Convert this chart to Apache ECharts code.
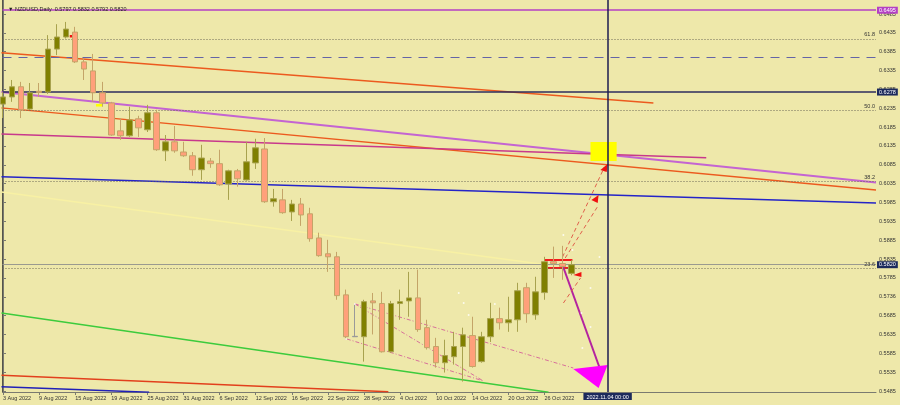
<!DOCTYPE html>
<html><head><meta charset="utf-8">
<script src="https://cdn.jsdelivr.net/npm/echarts@6/dist/echarts.min.js"></script>
<style>html,body{margin:0;padding:0;background:#EEE8AA;}#c{width:900px;height:405px;}</style>
</head><body><div id="c"></div>
<script>
// ---- data ----
const symbolName = 'NZDUSD,Daily';
const dates = ['2022-08-03','2022-08-04','2022-08-05','2022-08-08','2022-08-09','2022-08-10','2022-08-11','2022-08-12','2022-08-15','2022-08-16','2022-08-17','2022-08-18','2022-08-19','2022-08-22','2022-08-23','2022-08-24','2022-08-25','2022-08-26','2022-08-29','2022-08-30','2022-08-31','2022-09-01','2022-09-02','2022-09-05','2022-09-06','2022-09-07','2022-09-08','2022-09-09','2022-09-12','2022-09-13','2022-09-14','2022-09-15','2022-09-16','2022-09-19','2022-09-20','2022-09-21','2022-09-22','2022-09-23','2022-09-26','2022-09-27','2022-09-28','2022-09-29','2022-09-30','2022-10-03','2022-10-04','2022-10-05','2022-10-06','2022-10-07','2022-10-10','2022-10-11','2022-10-12','2022-10-13','2022-10-14','2022-10-17','2022-10-18','2022-10-19','2022-10-20','2022-10-21','2022-10-24','2022-10-25','2022-10-26','2022-10-27','2022-10-28','2022-10-31'];
const openP = [0.6246,0.6265,0.6292,0.6233,0.6280,0.6278,0.6392,0.6424,0.6437,0.6358,
  0.6334,0.6276,0.6249,0.6175,0.6162,0.6207,0.6178,0.6223,0.6122,0.6146,
  0.6119,0.6109,0.6072,0.6095,0.6088,0.6034,0.6069,0.6045,0.6090,0.6127,
  0.5987,0.5992,0.5960,0.5981,0.5955,0.5891,0.5849,0.5841,0.5740,0.5630,
  0.5629,0.5724,0.5717,0.5589,0.5717,0.5724,0.5732,0.5653,0.5603,0.5560,
  0.5576,0.5603,0.5632,0.5563,0.5629,0.5677,0.5666,0.5674,0.5759,0.5687,
  0.5746,0.5828,0.5823,0.5797];
const closeP = [0.6265,0.6292,0.6231,0.6276,0.6277,0.6392,0.6424,0.6445,0.6358,0.6339,
  0.6276,0.6249,0.6164,0.6162,0.6204,0.6183,0.6223,0.6125,0.6146,0.6122,
  0.6109,0.6072,0.6103,0.6088,0.6032,0.6069,0.6048,0.6093,0.6130,0.5987,
  0.5995,0.5958,0.5981,0.5952,0.5889,0.5844,0.5841,0.5738,0.5629,0.5629,
  0.5722,0.5719,0.5589,0.5717,0.5722,0.5732,0.5648,0.5600,0.5560,0.5579,
  0.5603,0.5634,0.5550,0.5629,0.5677,0.5666,0.5674,0.5751,0.5690,0.5748,
  0.5828,0.5823,0.5815,0.5820];
const lowP = [0.6209,0.6252,0.6209,0.6231,0.6265,0.6273,0.6376,0.6420,0.6355,0.6310,
  0.6252,0.6239,0.6162,0.6151,0.6159,0.6159,0.6172,0.6122,0.6095,0.6117,
  0.6106,0.6056,0.6045,0.6077,0.6029,0.5992,0.6027,0.6043,0.6074,0.5984,
  0.5974,0.5955,0.5936,0.5923,0.5881,0.5841,0.5801,0.5727,0.5621,0.5629,
  0.5563,0.5635,0.5587,0.5587,0.5674,0.5682,0.5642,0.5595,0.5547,0.5534,
  0.5555,0.5510,0.5547,0.5560,0.5615,0.5648,0.5642,0.5642,0.5666,0.5674,
  0.5727,0.5785,0.5780,0.5792];
const highP = [0.6278,0.6310,0.6305,0.6302,0.6302,0.6429,0.6458,0.6464,0.6451,0.6368,
  0.6379,0.6305,0.6252,0.6209,0.6239,0.6215,0.6244,0.6231,0.6164,0.6188,
  0.6146,0.6119,0.6138,0.6103,0.6125,0.6072,0.6074,0.6146,0.6154,0.6156,
  0.6021,0.6021,0.5992,0.5997,0.5971,0.5905,0.5886,0.5854,0.5754,0.5714,
  0.5727,0.5745,0.5748,0.5724,0.5754,0.5801,0.5807,0.5674,0.5626,0.5621,
  0.5642,0.5653,0.5682,0.5642,0.5719,0.5706,0.5735,0.5772,0.5772,0.5788,
  0.5841,0.5868,0.5870,0.5832];
const dojiIndex = 39;

// axis ticks
const xTickIdx = [0,4,8,12,16,20,24,28,32,36,40,44,48,52,56,60];
const xTickLabels = ['3 Aug 2022','9 Aug 2022','15 Aug 2022','19 Aug 2022','25 Aug 2022','31 Aug 2022','6 Sep 2022','12 Sep 2022','16 Sep 2022','22 Sep 2022','28 Sep 2022','4 Oct 2022','10 Oct 2022','14 Oct 2022','20 Oct 2022','26 Oct 2022'];
const yTickValues = [0.6485,0.6435,0.6385,0.6335,0.6285,0.6235,0.6185,0.6135,0.6085,0.6035,0.5985,0.5935,0.5885,0.5835,0.5785,0.5735,0.5685,0.5635,0.5585,0.5535,0.5485];
const yTickLabels = ['0.6485','0.6435','0.6385','0.6335','0.6285','0.6235','0.6185','0.6135','0.6085','0.6035','0.5985','0.5935','0.5885','0.5835','0.5785','0.5736','0.5685','0.5635','0.5585','0.5535','0.5485'];

// horizontal levels
const violetLevel = 0.6495;
const navyLevel = 0.6278;
const dashedLevel = 0.6371;
const bidLevel = 0.5820;
const fibLevels = [0.6419, 0.6229, 0.6041, 0.5810];
const fibNames = ['61.8', '50.0', '38.2', '23.6'];
const crosshairIndex = 67;
const crosshairLabel = '2022.11.04 00:00';

// drawn trend lines, [bar index, price]
const orangeTopLine = [[-0.17,0.6382],[72.07,0.6249]];
const orangeMidLine = [[-0.17,0.6236],[96.74,0.6018]];
const orangeLowLine = [[-0.17,0.5527],[42.7,0.5483]];
const violetTrend = [[-0.17,0.6278],[96.74,0.6038]];
const crimsonTrend = [[-0.17,0.6167],[77.93,0.6104]];
const blueTrend = [[-0.17,0.6053],[96.74,0.5984]];
const blueLowLine = [[-0.17,0.5496],[16.2,0.5482]];
const paleTrend = [[-0.17,0.6013],[59.6,0.5822]];
const greenTrend = [[-0.17,0.5692],[60.45,0.5482]];
const pinkLine1 = [[39.0,0.5716],[63.2,0.5546]];
const pinkLine2 = [[39.0,0.5716],[53.2,0.5512]];
const pinkLine3 = [[38.1,0.5623],[53.2,0.5512]];
const redBarTop = [[60.0,0.58325],[63.1,0.58325]];
const redBarLow = [[60.0,0.58113],[63.4,0.58113]];
const magentaArrow = [[62.0,0.58192],[66.2,0.55407]];
const redDash1 = [[62.0,0.58404],[66.65,0.60792]];
const redDash2 = [[62.3,0.58378],[66.0,0.59784]];
const redDash3 = [[62.1,0.57184],[64.0,0.57848]];
// filled shapes
const magentaTriangle = [[63.2,0.55434],[67.0,0.5554],[66.0,0.5493]];
const redHeadUpper = [[67.0,0.60871],[66.2,0.60712],[66.9,0.60659]];
const redHeadLower = [[66.0,0.60049],[65.2,0.59916],[65.9,0.59837]];
const redHeadSmall = [[63.2,0.57927],[64.1,0.58007],[64.1,0.57874]];
const yellowBox = [[65.1,0.61455],[68.0,0.61455],[68.0,0.60951],[65.1,0.60951]];
const yellowMark = [[10.3,0.62463],[11.0,0.62463],[11.0,0.62396],[10.3,0.62396]];
const redMark = [[7.4,0.64293],[7.8,0.64293],[7.8,0.64227],[7.4,0.64227]];
// fractal dots
const fractalDots = [[50.5,0.5745],[51.05,0.57184],[51.6,0.56866],[54.5,0.57158],[38.0,0.56229],[39.0,0.57158],[62.1,0.58988],[63.1,0.5859],[66.1,0.58404],[65.1,0.57582],[64.1,0.56919],[65.1,0.56548],[64.2,0.55991]];

// ---- chart ----
const FONT = 'Liberation Sans, DejaVu Sans, sans-serif';
const Y_MIN = 0.548236, Y_MAX = 0.652214;
const X_MIN = -0.055, X_MAX = 96.74;

function seg(pts, color, width, type) {
  return {type:'line', data: pts, showSymbol:false, symbol:'none', silent:true, animation:false,
    lineStyle:{color, width, type: type || 'solid'}, z: 3};
}
function poly(pts, fill) {
  return {type:'custom', silent:true, animation:false, z: 4, data:[pts[0]],
    renderItem:(p, api) => ({type:'polygon', shape:{points: pts.map(q => api.coord(q))}, style:{fill}})};
}
const hLabel = (txt, bg) => ({show:true, position:'end', formatter: txt, backgroundColor: bg, color:'#fff',
  fontSize:5.5, fontFamily:FONT, padding:[1,2,0,2], distance:1});
const fibLabel = (txt) => ({show:true, position:'insideEndTop', formatter: txt, color:'#333', fontSize:5.5, fontFamily:FONT, distance:1});
const dotted = {color:'#6e6a58', width:1, type:[1,2]};

const candleData = dates.map((d, i) => {
  const v = [i, openP[i], closeP[i], lowP[i], highP[i]];
  return i === dojiIndex ? {value: v, itemStyle:{color:'#9a9a9a', color0:'#9a9a9a', borderColor:'#9a9a9a', borderColor0:'#9a9a9a'}} : v;
});

const markData = [
  {yAxis: violetLevel, lineStyle:{color:'#B440C4', width:1.5, type:'solid'}, label: hLabel(violetLevel.toFixed(4), '#B440C4')},
  {yAxis: dashedLevel, lineStyle:{color:'#6464A6', width:1.2, type:[9,7]}, label:{show:false}},
  {yAxis: navyLevel, lineStyle:{color:'#2c2c5c', width:1.5, type:'solid'}, label: hLabel(navyLevel.toFixed(4), '#1c2a5c')},
  {yAxis: bidLevel, lineStyle:{color:'#9a9a90', width:1, type:'solid'}, label: hLabel(bidLevel.toFixed(4), '#1c2a5c')},
  ...fibLevels.map((lv, k) => ({yAxis: lv, lineStyle: dotted, label: fibLabel(fibNames[k])})),
  {xAxis: crosshairIndex, lineStyle:{color:'#1c1c50', width:1.5, type:'solid'},
    label:{show:true, position:'start', formatter: crosshairLabel, backgroundColor:'#1c2a5c', color:'#fff', fontSize:5.5, fontFamily:FONT, padding:[1,3,0,3], distance:1}}
];

const option = {
  animation:false,
  backgroundColor:'#EEE8AA',
  title:{text:'\u25BC ' + symbolName + '  ' + [openP[63], highP[63], lowP[63], closeP[63]].map(v => v.toFixed(4)).join(' '),
    left:3, top:1, textStyle:{fontSize:5.5, fontWeight:'normal', color:'#222', fontFamily:FONT}},
  grid:{left:1, right:24, top:0, bottom:13},
  xAxis:{type:'value', min:X_MIN, max:X_MAX,
    axisLine:{show:true, onZero:false, lineStyle:{color:'#7a7a70'}},
    axisTick:{show:true, customValues:xTickIdx, length:3, lineStyle:{color:'#7a7a70'}},
    axisLabel:{show:true, customValues:xTickIdx, align:'left', margin:3, fontSize:5.5, color:'#333', fontFamily:FONT,
      formatter:(v) => { const k = xTickIdx.indexOf(Math.round(v)); return k >= 0 ? xTickLabels[k] : ''; }},
    splitLine:{show:false}},
  yAxis:[{type:'value', position:'right', min:Y_MIN, max:Y_MAX,
    axisLine:{show:true, lineStyle:{color:'#7a7a70'}},
    axisTick:{show:true, customValues:yTickValues, length:3, lineStyle:{color:'#7a7a70'}},
    axisLabel:{show:true, customValues:yTickValues, margin:3, fontSize:5.5, color:'#333', fontFamily:FONT,
      formatter:(v) => { let b = 0; yTickValues.forEach((t, k) => { if (Math.abs(t - v) < Math.abs(yTickValues[b] - v)) b = k; }); return yTickLabels[b]; }},
    splitLine:{show:false}},
   {type:'value', position:'left', min:Y_MIN, max:Y_MAX, axisLine:{show:true, lineStyle:{color:'#55554a'}},
    axisTick:{show:false}, axisLabel:{show:false}, splitLine:{show:false}}],
  series:[
    seg(paleTrend, '#F8F1A4', 1.5),
    seg(orangeTopLine, '#EC5A1E', 1.5),
    seg(orangeMidLine, '#EC5A1E', 1.5),
    seg(orangeLowLine, '#E2401C', 1.5),
    seg(violetTrend, '#C464D2', 2),
    seg(crimsonTrend, '#C8388C', 1.5),
    seg(blueTrend, '#2424C8', 1.5),
    seg(blueLowLine, '#2020B8', 1.5),
    seg(greenTrend, '#3CCB3C', 1.5),
    seg(pinkLine1, '#D8709A', 1, [4,2,1,2]),
    seg(pinkLine2, '#D8709A', 1, [4,2,1,2]),
    seg(pinkLine3, '#D8709A', 1, [4,2,1,2]),
    {type:'candlestick', data:candleData, barWidth:6, z:5, animation:false, silent:true,
      itemStyle:{color:'#808000', color0:'#FFA07A', borderColor:'#A8A24E', borderColor0:'#C4A468', borderWidth:1},
      markLine:{symbol:['none','none'], precision:6, silent:true, animation:false, data: markData}},
    seg(redBarTop, '#F41C1C', 2),
    seg(redBarLow, '#F41C1C', 2),
    seg(magentaArrow, '#B4239F', 2),
    seg(redDash1, '#E0604C', 1, [4,3]),
    seg(redDash2, '#E0604C', 1, [4,3]),
    seg(redDash3, '#E0604C', 1, [4,3]),
    poly(magentaTriangle, '#FF00FF'),
    poly(redHeadUpper, '#F01010'),
    poly(redHeadLower, '#F01010'),
    poly(redHeadSmall, '#F01010'),
    poly(yellowBox, '#FFFF00'),
    poly(yellowMark, '#FFFF00'),
    poly(redMark, '#F01010'),
    {type:'scatter', data:fractalDots, symbolSize:2, silent:true, animation:false, z:6, itemStyle:{color:'#ffffff'}}
  ]
};
const chart = echarts.init(document.getElementById('c'), null, {renderer:'canvas'});
chart.setOption(option);
</script></body></html>
